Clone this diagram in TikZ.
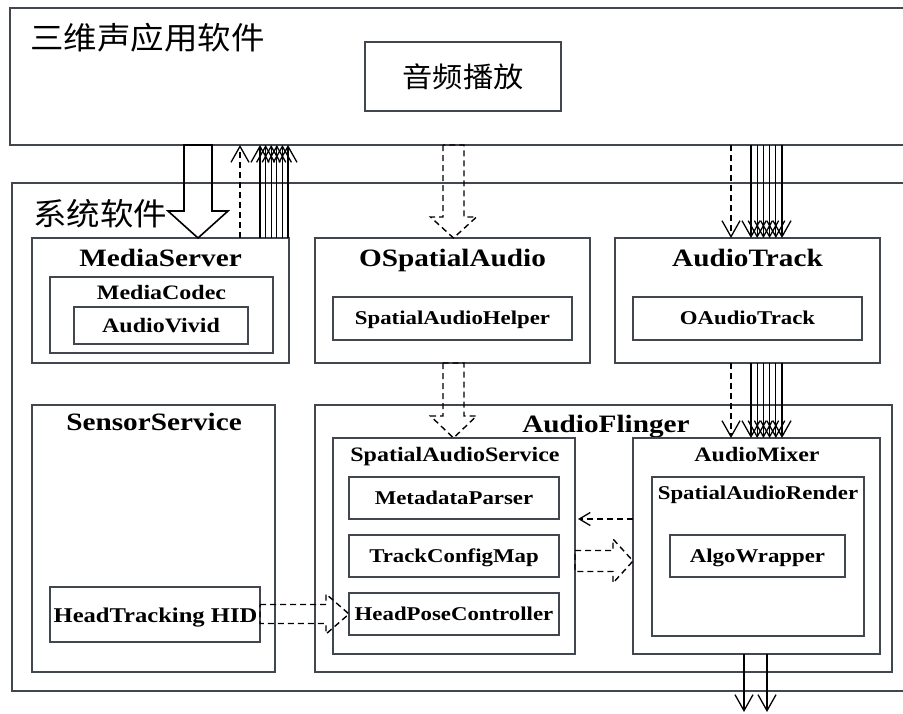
\documentclass[tikz,border=0pt]{standalone}
\usepackage{fontspec}
\newfontfamily\lat{Liberation Serif}[FakeStretch=1.17]
\newfontfamily\cjk{Noto Sans CJK SC}[FakeStretch=1.08]
\usetikzlibrary{arrows.meta,calc}

\definecolor{edge}{RGB}{66,70,78}

\tikzset{
  box/.style={draw=edge, line width=2pt, inner sep=0pt, outer sep=0pt},
  ttl/.style={inner sep=0pt, text height=16.5pt, text depth=0pt, font=\lat\bfseries\fontsize{25}{28}\selectfont},
  sub/.style={inner sep=0pt, text height=13.6pt, text depth=0pt, font=\lat\bfseries\fontsize{20.5}{24}\selectfont},
  inn/.style={inner sep=0pt, text height=12.9pt, text depth=0pt, font=\lat\bfseries\fontsize{19.5}{23}\selectfont},
  big/.style={inner sep=0pt, text height=13.9pt, text depth=0pt, font=\lat\bfseries\fontsize{21}{24}\selectfont},
  cjkt/.style={inner sep=0pt, text height=23.6pt, text depth=0pt, font=\cjk\fontsize{31}{34}\selectfont},
  cjkp/.style={inner sep=0pt, text height=21.3pt, text depth=0pt, font=\cjk\fontsize{28}{31}\selectfont},
  arr/.style={draw=black, line width=1.3pt},
  barb/.style={-{Straight Barb[length=16pt,width=18pt]}},
  dsh/.style={dash pattern=on 6pt off 4pt},
  bigarr/.style={draw=black, line width=1.6pt, line join=miter},
  darr/.style={draw=black, line width=1.4pt, line join=miter, dash pattern=on 6pt off 4pt},
}

% rectangle node from its two corners (x1,y1) (x2,y2)
\newcommand\boxat[5]{\node[box, minimum width={#4pt-#2pt}, minimum height={#5pt-#3pt}] (#1) at ({(#2+#4)/2},{(#3+#5)/2}) {};}
% hollow block arrows: style, start, tip, half shaft, half head, head length
\newcommand\hollowdown[6]{\draw[#1] ($(#2)+(-#4,0)$) -- ($(#3)+(-#4,-#6)$) -- ($(#3)+(-#5,-#6)$) -- (#3) -- ($(#3)+(#5,-#6)$) -- ($(#3)+(#4,-#6)$) -- ($(#2)+(#4,0)$) -- cycle;}
\newcommand\hollowright[6]{\draw[#1] ($(#2)+(0,-#4)$) -- ($(#3)+(-#6,-#4)$) -- ($(#3)+(-#6,-#5)$) -- (#3) -- ($(#3)+(-#6,#5)$) -- ($(#3)+(-#6,#4)$) -- ($(#2)+(0,#4)$) -- cycle;}

\begin{document}
\begin{tikzpicture}[x=1pt, y=-1pt]
\useasboundingbox (0,0) rectangle (903,713);
\clip (0,0) rectangle (903,713);
\fill[white] (0,0) rectangle (903,713);

% application layer
\boxat{app}{10}{8}{930}{145}
\node[cjkt, anchor=west] (appT) at (30,38) {三维声应用软件};
\boxat{play}{365}{42}{561}{111}
\node[cjkp] (playT) at (play.center) {音频播放};

% system layer
\boxat{sys}{12}{183}{930}{691}
\node[cjkt, anchor=west] (sysT) at (33,214) {系统软件};

\boxat{ms}{32}{238}{289}{363}
\node[ttl] (msT) at (160.5,258) {MediaServer};
\boxat{codec}{50}{277}{273}{353}
\node[sub] (codecT) at (161.5,293) {MediaCodec};
\boxat{vivid}{74}{307}{248}{344}
\node[sub] (vividT) at (vivid.center) {AudioVivid};

\boxat{osa}{315}{238}{590}{363}
\node[ttl] (osaT) at (452.5,258) {OSpatialAudio};
\boxat{sah}{333}{297}{572}{340}
\node[inn] (sahT) at (sah.center) {SpatialAudioHelper};

\boxat{atrack}{615}{238}{880}{363}
\node[ttl] (atrackT) at (747.5,258) {AudioTrack};
\boxat{oat}{633}{297}{862}{340}
\node[inn] (oatT) at (oat.center) {OAudioTrack};

\boxat{sensor}{32}{405}{275}{672}
\node[ttl] (sensorT) at (154,422) {SensorService};
\boxat{hid}{50}{587}{260}{642}
\node[big] (hidT) at (155.5,616) {HeadTracking HID};

\boxat{af}{315}{405}{892}{672}
\node[ttl] (afT) at (606,424) {AudioFlinger};

\boxat{sas}{333}{438}{575}{654}
\node[sub] (sasT) at (455,455) {SpatialAudioService};
\boxat{mp}{349}{477}{559}{519}
\node[inn] (mpT) at (mp.center) {MetadataParser};
\boxat{tcm}{349}{535}{559}{577}
\node[inn] (tcmT) at (tcm.center) {TrackConfigMap};
\boxat{hpc}{349}{593}{559}{635}
\node[inn] (hpcT) at (hpc.center) {HeadPoseController};

\boxat{mixer}{633}{438}{880}{654}
\node[sub] (mixerT) at (757,455) {AudioMixer};
\boxat{sar}{652}{477}{864}{636}
\node[inn] (sarT) at (758,493) {SpatialAudioRender};
\boxat{algo}{670}{535}{845}{577}
\node[inn] (algoT) at (algo.center) {AlgoWrapper};

% connector columns and rows
\coordinate (c1) at (198,0);
\coordinate (cd1) at (240,0);
\coordinate (cs1) at (260,0);
\coordinate (c3) at (453.5,0);
\coordinate (cd2) at (731,0);
\coordinate (cs2) at (751,0);
\coordinate (r1) at (0,519);
\coordinate (r2) at (0,561);
\coordinate (r3) at (0,614);
\coordinate (o1) at (744,712);
\coordinate (o2) at (767,712);

% application <-> MediaServer
\hollowdown{bigarr}{app.south -| c1}{ms.north -| c1}{14}{30}{27}
\draw[arr,dsh,barb] (ms.north -| cd1) -- (app.south -| cd1);
\foreach \k in {0,...,5}
  \draw[arr,barb] ($(ms.north -| cs1)+(\k*5.6,0)$) -- ($(app.south -| cs1)+(\k*5.6,0)$);

% application -> OSpatialAudio -> SpatialAudioService
\hollowdown{darr}{app.south -| c3}{osa.north -| c3}{10.5}{23}{21}
\hollowdown{darr}{osa.south -| c3}{sas.north -| c3}{10.5}{23}{22}

% application -> AudioTrack -> AudioMixer
\draw[arr,dsh,barb] (app.south -| cd2) -- (atrack.north -| cd2);
\draw[arr,dsh,barb] (atrack.south -| cd2) -- (mixer.north -| cd2);
\foreach \k in {0,...,5}{
  \draw[arr,barb] ($(app.south -| cs2)+(\k*6.2,0)$) -- ($(atrack.north -| cs2)+(\k*6.2,0)$);
  \draw[arr,barb] ($(atrack.south -| cs2)+(\k*6.2,0)$) -- ($(mixer.north -| cs2)+(\k*6.2,0)$);
}

% links inside AudioFlinger
\draw[arr,dsh,-{Straight Barb[length=11pt,width=13pt]},shorten >=3pt] (mixer.west |- r1) -- (sas.east |- r1);
\hollowright{darr}{sas.east |- r2}{mixer.west |- r2}{10.5}{22}{20}
\hollowright{darr}{hid.east |- r3}{hpc.west |- r3}{9.5}{20}{23}

% output of the mixer
\draw[arr,barb] (mixer.south -| o1) -- (o1);
\draw[arr,barb] (mixer.south -| o2) -- (o2);
\end{tikzpicture}
\end{document}
